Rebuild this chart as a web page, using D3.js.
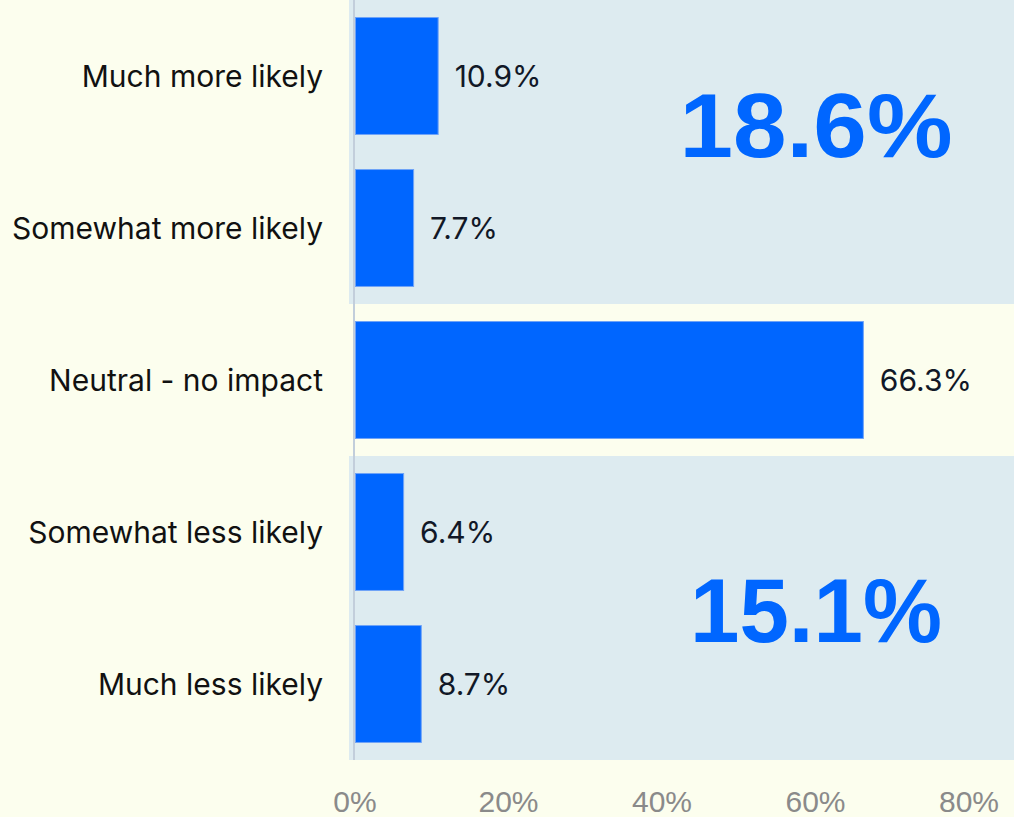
<!DOCTYPE html>
<html>
<head>
<meta charset="utf-8">
<script src="https://cdn.jsdelivr.net/npm/d3@7"></script>
<style>
  body { margin: 0; background: #fcfeee; }
  svg { display: block; }
</style>
</head>
<body>
<div id="chart"></div>
<script>
const categories = ["Much more likely", "Somewhat more likely", "Neutral - no impact", "Somewhat less likely", "Much less likely"];
const values = [10.9, 7.7, 66.3, 6.4, 8.7];
const xTicks = [0, 20, 40, 60, 80];
const groupLabels = ["18.6%", "15.1%"];
const groupFrom = ["Much more likely", "Somewhat less likely"];
const groupTo = ["Somewhat more likely", "Much less likely"];

const width = 1014, height = 817;
const margin = { top: 0, right: 0, bottom: 57, left: 355 };
const blue = "#0066ff";
// vertical nudge of the big totals relative to their band centre
const totalShift = [-27, 2];

const svg = d3.select("#chart").append("svg")
  .attr("width", width)
  .attr("height", height);

const x = d3.scaleLinear().domain([0, 80]).range([margin.left, 969]);
const y = d3.scaleBand()
  .domain(categories)
  .range([margin.top, height - margin.bottom])
  .paddingInner(0.224)
  .paddingOuter(0.112);

const gap = y.step() * y.paddingInner() / 2;

// shaded group bands
svg.append("g").selectAll("rect")
  .data(groupLabels)
  .enter().append("rect")
  .attr("x", margin.left - 6)
  .attr("width", width - margin.left + 6)
  .attr("y", (d, i) => y(groupFrom[i]) - gap)
  .attr("height", (d, i) => y(groupTo[i]) + y.bandwidth() + gap - (y(groupFrom[i]) - gap))
  .attr("fill", "#ddebf0");

// axis line
svg.append("line")
  .attr("x1", x(0) - 1).attr("x2", x(0) - 1)
  .attr("y1", 0).attr("y2", height - margin.bottom)
  .attr("stroke", "#c2cedb")
  .attr("stroke-width", 2);

// bars
svg.append("g").selectAll("rect")
  .data(values)
  .enter().append("rect")
  .attr("x", x(0) + 0.5)
  .attr("y", (d, i) => y(categories[i]) + 0.5)
  .attr("width", d => x(d) - x(0) - 1)
  .attr("height", y.bandwidth() - 1)
  .attr("fill", blue)
  .attr("stroke", "#6fa3f7")
  .attr("stroke-width", 1);

// value labels
svg.append("g").selectAll("text")
  .data(values)
  .enter().append("text")
  .attr("x", d => x(d) + 16)
  .attr("y", (d, i) => y(categories[i]) + y.bandwidth() / 2)
  .attr("dy", "0.35em")
  .attr("font-family", "Inter, sans-serif")
  .attr("font-size", 30)
  .attr("fill", "#111827")
  .text(d => d3.format(".1f")(d) + "%");

// category labels
svg.append("g").selectAll("text")
  .data(categories)
  .enter().append("text")
  .attr("x", 323)
  .attr("y", d => y(d) + y.bandwidth() / 2)
  .attr("dy", "0.35em")
  .attr("text-anchor", "end")
  .attr("font-family", "Inter, sans-serif")
  .attr("font-size", 30)
  .attr("fill", "#111")
  .text(d => d);

// big group totals (stretched a little to match the wide display face)
svg.append("g").selectAll("text")
  .data(groupLabels)
  .enter().append("text")
  .attr("x", 816)
  .attr("y", (d, i) => (y(groupFrom[i]) + y(groupTo[i]) + y.bandwidth()) / 2 + totalShift[i])
  .attr("dy", "0.36em")
  .attr("text-anchor", "middle")
  .attr("font-family", "Liberation Sans, Arial, sans-serif")
  .attr("font-weight", "bold")
  .attr("font-size", 90)
  .attr("textLength", (d, i) => i === 0 ? 273 : 252)
  .attr("lengthAdjust", "spacingAndGlyphs")
  .attr("fill", blue)
  .text(d => d);

// x tick labels
svg.append("g").selectAll("text")
  .data(xTicks)
  .enter().append("text")
  .attr("x", d => x(d))
  .attr("y", 812)
  .attr("text-anchor", "middle")
  .attr("font-family", "Liberation Sans Narrow, Liberation Sans, sans-serif")
  .attr("font-size", 30)
  .attr("fill", "#8a8a8a")
  .text(d => d + "%");
</script>
</body>
</html>
